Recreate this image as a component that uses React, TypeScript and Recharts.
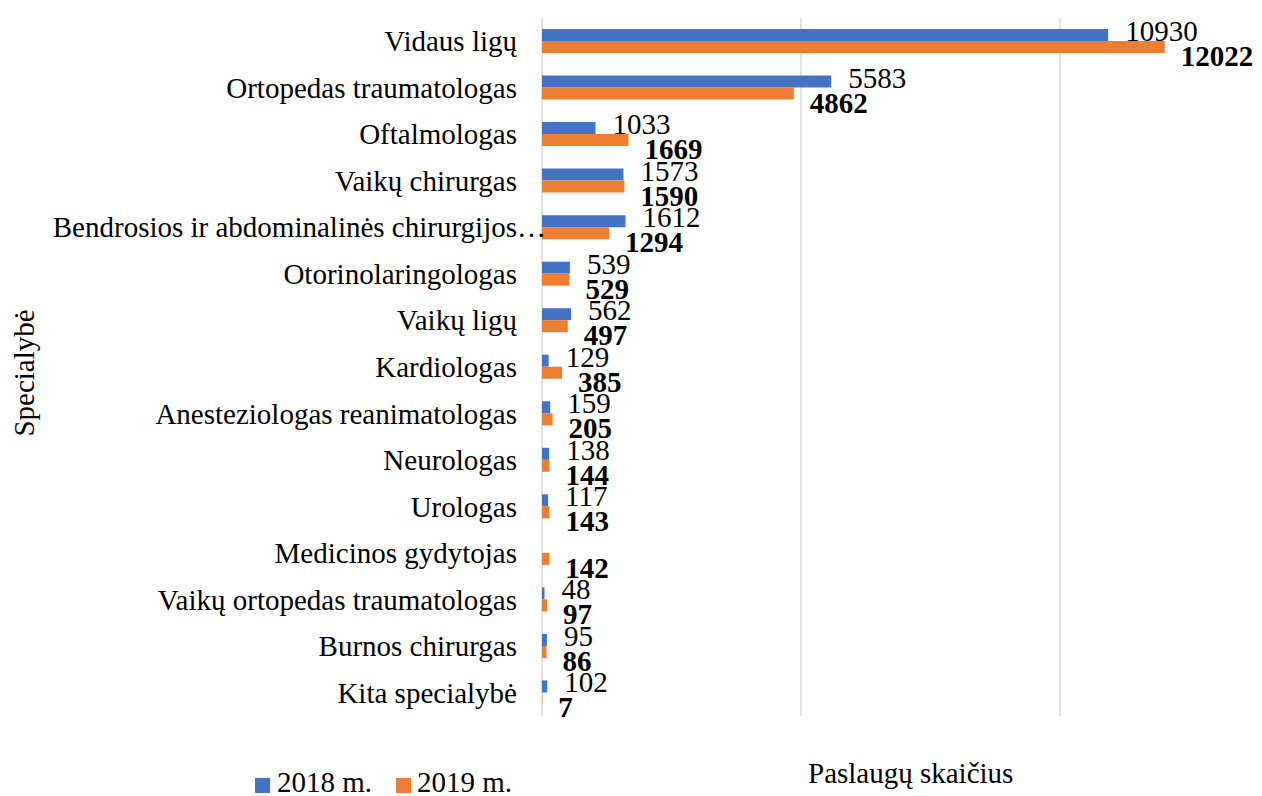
import { BarChart, Bar, XAxis, YAxis, CartesianGrid, LabelList } from "recharts";

const categories = [
  "Vidaus ligų",
  "Ortopedas traumatologas",
  "Oftalmologas",
  "Vaikų chirurgas",
  "Bendrosios ir abdominalinės chirurgijos…",
  "Otorinolaringologas",
  "Vaikų ligų",
  "Kardiologas",
  "Anesteziologas reanimatologas",
  "Neurologas",
  "Urologas",
  "Medicinos gydytojas",
  "Vaikų ortopedas traumatologas",
  "Burnos chirurgas",
  "Kita specialybė",
];

const values2018 = [10930, 5583, 1033, 1573, 1612, 539, 562, 129, 159, 138, 117, null, 48, 95, 102];
const values2019 = [12022, 4862, 1669, 1590, 1294, 529, 497, 385, 205, 144, 143, 142, 97, 86, 7];

const gridTicks = [0, 5000, 10000];

const data = categories.map((name, i) => ({
  name,
  y2018: values2018[i],
  y2019: values2019[i],
}));

const FONT = "'Liberation Serif', 'Times New Roman', serif";
const BLUE = "#4472C4";
const ORANGE = "#ED7D31";

// value labels sit right of the bar end, 2018 nudged up, 2019 (bold) nudged down
const makeLabel = (bold: boolean, dx: number, dy: number) => (props: any) => {
  const { x, y, width, height, value } = props;
  if (value === null || value === undefined) return null;
  return (
    <text
      x={Number(x) + Number(width) + dx}
      y={Number(y) + Number(height) / 2 + dy}
      dominantBaseline="central"
      fontFamily={FONT}
      fontSize={29}
      fontWeight={bold ? "bold" : "normal"}
      fill="#000"
    >
      {value}
    </text>
  );
};

// truncated names keep their ellipsis hanging past the text edge, like the original
const CategoryTick = (props: any) => {
  const { x, y, payload } = props;
  const label: string = String(payload.value);
  const cut = label.endsWith("…");
  const main = cut ? label.slice(0, -1) : label;
  return (
    <g>
      <text x={x} y={y} textAnchor="end" dominantBaseline="central" fontFamily={FONT} fontSize={29} fill="#000">
        {main}
      </text>
      {cut && (
        <text x={x} y={y} textAnchor="start" dominantBaseline="central" fontFamily={FONT} fontSize={29} fill="#000">
          …
        </text>
      )}
    </g>
  );
};

const gridX = ({ xAxis, offset }: any) => {
  if (xAxis && typeof xAxis.scale === "function") {
    return gridTicks.map((t) => xAxis.scale(t));
  }
  return gridTicks.map((t) => offset.left + (t / 13900) * offset.width);
};

const textStyle: React.CSSProperties = {
  position: "absolute",
  fontFamily: FONT,
  fontSize: 29,
  lineHeight: "29px",
  color: "#000",
  whiteSpace: "nowrap",
};

export default function App() {
  return (
    <div style={{ position: "absolute", left: 0, top: 0, width: 1262, height: 796, background: "#fff" }}>
      <BarChart
        width={1262}
        height={796}
        data={data}
        layout="vertical"
        margin={{ top: 18, right: 0, left: 0, bottom: 80 }}
        barGap={0}
      >
        <CartesianGrid
          horizontal={false}
          stroke="#d9d9d9"
          strokeWidth={1.5}
          verticalCoordinatesGenerator={gridX}
        />
        <XAxis type="number" domain={[0, 13900]} ticks={gridTicks} hide />
        <YAxis
          type="category"
          dataKey="name"
          width={542}
          tickLine={false}
          axisLine={false}
          tickSize={0}
          tickMargin={25}
          interval={0}
          tick={<CategoryTick />}
        />
        <Bar dataKey="y2018" name="2018 m." fill={BLUE} barSize={12} isAnimationActive={false}>
          <LabelList dataKey="y2018" content={makeLabel(false, 17, -4)} />
        </Bar>
        <Bar dataKey="y2019" name="2019 m." fill={ORANGE} barSize={12} isAnimationActive={false}>
          <LabelList dataKey="y2019" content={makeLabel(true, 16, 9)} />
        </Bar>
      </BarChart>

      <div
        style={{
          ...textStyle,
          left: 24,
          top: 373,
          transform: "translate(-50%, -50%) rotate(-90deg)",
        }}
      >
        Specialybė
      </div>

      <div style={{ ...textStyle, left: 808, top: 759 }}>Paslaugų skaičius</div>

      <div style={{ position: "absolute", left: 255, top: 778, width: 15, height: 15, background: BLUE }} />
      <div style={{ ...textStyle, left: 277, top: 768 }}>2018 m.</div>
      <div style={{ position: "absolute", left: 396, top: 778, width: 15, height: 15, background: ORANGE }} />
      <div style={{ ...textStyle, left: 417, top: 768 }}>2019 m.</div>
    </div>
  );
}
